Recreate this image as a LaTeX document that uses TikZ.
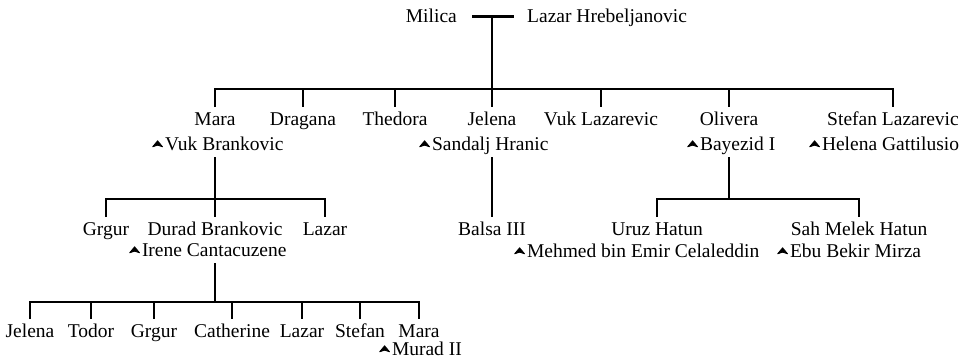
\documentclass[tikz,border=0pt]{standalone}
\usepackage{fontspec}
\setmainfont{Liberation Serif}
\usetikzlibrary{calc}
\tikzset{
  pers/.style={font=\fontsize{19.5}{22}\selectfont, inner sep=0pt, outer ysep=5pt,
    text height=13pt, text depth=2pt, anchor=base},
  spouse/.style={pers, anchor=base west},
  kin/.style={black, line width=2.6pt}
}
% wedding mark
\newcommand{\wed}{\tikz[baseline=0pt,x=1pt,y=1pt]\filldraw[line width=0.8pt, line join=round] (0.5,3.2) -- (5.5,9.2) -- (10.5,3.2) -- (5.5,4.8) -- cycle;\hspace{2pt}}

\begin{document}
\begin{tikzpicture}[x=1pt,y=-1pt]
\useasboundingbox (0,0) rectangle (969,360);
% ==========================================
\node[pers, anchor=base east] (milica) at (457,22) {Milica};
\node[pers, anchor=base west] (lazarh) at (527,22) {Lazar Hrebeljanovic};
\coordinate (wed0) at ($(milica.east)!0.5!(lazarh.west)$);
\draw[kin, shorten <=15pt, shorten >=13pt] (milica.east) -- (lazarh.west);
%
\node[pers] (mara)    at (215,125) {Mara};
\node[pers] (dragana) at (303,125) {Dragana};
\node[pers] (thedora) at (395,125) {Thedora};
\node[pers] (jelena)  at (492,125) {Jelena};
\node[pers] (vukl)    at (601,125) {Vuk Lazarevic};
\node[pers] (olivera) at (729,125) {Olivera};
\node[pers] (stefanl) at (893,125) {Stefan Lazarevic};
\node[spouse] (vukb)    at (152,150) {\wed Vuk Brankovic};
\node[spouse] (sandalj) at (419,150) {\wed Sandalj Hranic};
\node[spouse] (bayezid) at (687,150) {\wed Bayezid I};
\node[spouse] (helena)  at (809,150) {\wed Helena Gattilusio};
%
\coordinate (kin1) at (wed0 |- 0,89);
\draw[kin] (wed0) -- (kin1);
\draw[kin] (mara.north) -- (mara.north |- kin1) -- (stefanl.north |- kin1) -- (stefanl.north);
\foreach \c in {dragana,thedora,jelena,vukl,olivera}
  \draw[kin] (\c.north |- kin1) -- (\c.north);
% =============================================
\node[pers] (grgur)  at (106,235) {Grgur};
\node[pers] (durad)  at (215,235) {Durad Brankovic};
\node[pers] (lazar)  at (325,235) {Lazar};
\node[spouse] (irene) at (129,256) {\wed Irene Cantacuzene};
\node[pers] (balsa)  at (492,235) {Balsa III};
\node[pers] (uruz)   at (657,235) {Uruz Hatun};
\node[pers] (sah)    at (859,235) {Sah Melek Hatun};
\node[spouse] (mehmed) at (514,257) {\wed Mehmed bin Emir Celaleddin};
\node[spouse] (ebu)    at (777,257) {\wed Ebu Bekir Mirza};
%
\coordinate (kin2) at (mara |- 0,199);
\coordinate (kin3) at (olivera |- 0,199);
\draw[kin] (mara |- vukb.south) -- (kin2);
\draw[kin] (grgur.north) -- (grgur.north |- kin2) -- (lazar.north |- kin2) -- (lazar.north);
\draw[kin] (durad.north |- kin2) -- (durad.north);
\draw[kin] (jelena |- sandalj.south) -- (balsa.north);
\draw[kin] (olivera |- bayezid.south) -- (kin3);
\draw[kin] (uruz.north) -- (uruz.north |- kin3) -- (sah.north |- kin3) -- (sah.north);
% =============================================
\node[pers] (jelena2)    at (30,337)  {Jelena};
\node[pers] (todor)      at (91,337)  {Todor};
\node[pers] (grgur2)     at (154,337) {Grgur};
\node[pers] (catherine)  at (232,337) {Catherine};
\node[pers] (lazar2)     at (302,337) {Lazar};
\node[pers] (stefan2)    at (360,337) {Stefan};
\node[pers] (mara2)      at (419,337) {Mara};
\node[spouse] (murad)    at (379,355) {\wed Murad II};
%
\coordinate (kin4) at (durad |- 0,302);
\draw[kin] (durad |- irene.south) -- (kin4);
\draw[kin] (jelena2.north) -- (jelena2.north |- kin4) -- (mara2.north |- kin4) -- (mara2.north);
\foreach \c in {todor,grgur2,catherine,lazar2,stefan2}
  \draw[kin] (\c.north |- kin4) -- (\c.north);
% =============================================
\end{tikzpicture}
\end{document}
